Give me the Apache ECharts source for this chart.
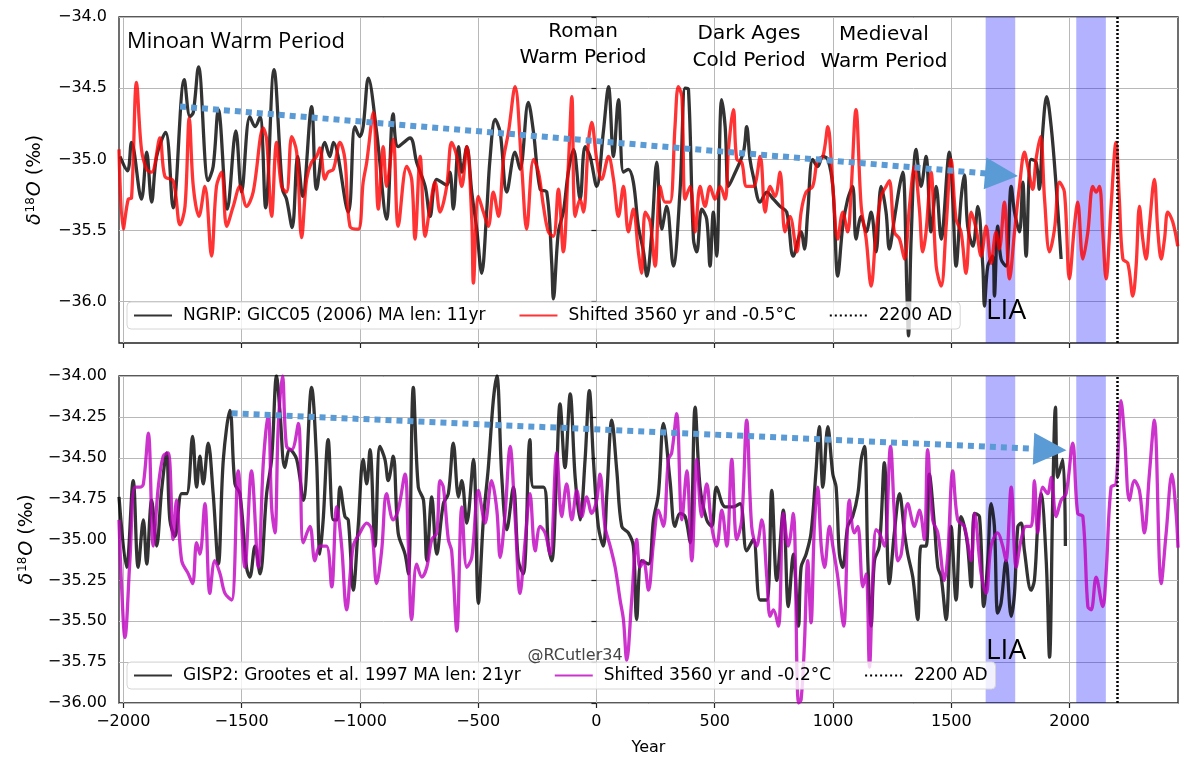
<!DOCTYPE html>
<html>
<head>
<meta charset="utf-8">
<script src="https://cdn.jsdelivr.net/npm/echarts@6/dist/echarts.min.js"></script>
<style>html,body{margin:0;padding:0;background:#fff}#c{width:1200px;height:779px}</style>
</head>
<body>
<div id="c"></div>
<script>
// ---------- data (year, δ18O ‰) ----------
const ngrip = [[-2014,-34.98],[-1982,-35.08],[-1965,-34.88],[-1923,-35.28],[-1901,-34.95],[-1880,-35.30],[-1859,-34.98],[-1821,-34.81],[-1789,-35.34],[-1742,-34.44],[-1718,-34.70],[-1704,-34.67],[-1682,-34.35],[-1641,-35.15],[-1620,-35.05],[-1598,-34.65],[-1560,-35.35],[-1524,-34.80],[-1500,-35.23],[-1465,-34.70],[-1443,-34.77],[-1422,-34.70],[-1398,-35.34],[-1363,-34.37],[-1327,-35.21],[-1310,-35.28],[-1286,-35.48],[-1263,-34.98],[-1242,-35.26],[-1204,-34.63],[-1183,-35.21],[-1148,-34.88],[-1127,-34.98],[-1112,-34.88],[-1049,-35.37],[-1021,-34.77],[-1000,-34.84],[-986,-34.77],[-964,-34.43],[-929,-34.81],[-887,-35.42],[-859,-34.68],[-838,-34.91],[-788,-34.85],[-760,-35.02],[-724,-35.19],[-703,-35.40],[-675,-35.14],[-633,-35.18],[-619,-35.09],[-605,-35.35],[-583,-34.91],[-569,-35.09],[-548,-34.91],[-527,-35.23],[-506,-35.49],[-485,-35.80],[-464,-35.37],[-450,-35.00],[-428,-34.72],[-407,-34.81],[-379,-35.23],[-344,-34.95],[-323,-35.07],[-288,-34.60],[-266,-34.81],[-238,-35.21],[-210,-35.23],[-189,-35.73],[-182,-35.98],[-161,-35.51],[-140,-35.37],[-119,-35.09],[-97,-34.93],[-69,-35.28],[-48,-34.91],[-27,-34.98],[1,-35.19],[29,-34.81],[51,-34.49],[72,-34.98],[93,-34.58],[114,-35.09],[135,-35.07],[156,-35.16],[177,-35.47],[199,-35.65],[213,-35.82],[234,-35.51],[255,-35.02],[276,-35.49],[297,-35.33],[325,-35.75],[353,-35.23],[375,-34.50],[389,-34.51],[410,-35.56],[424,-35.65],[445,-35.35],[466,-35.42],[480,-35.75],[494,-35.37],[508,-35.68],[529,-34.58],[544,-34.77],[558,-35.19],[579,-35.12],[621,-34.95],[635,-34.77],[649,-35.00],[663,-35.12],[692,-35.30],[720,-35.23],[748,-35.28],[776,-35.33],[804,-35.37],[832,-35.68],[865,-35.51],[879,-35.63],[893,-35.37],[914,-35.00],[935,-35.05],[957,-34.98],[978,-35.00],[999,-35.19],[1020,-35.82],[1041,-35.47],[1062,-35.28],[1083,-35.19],[1097,-35.56],[1119,-35.40],[1140,-35.51],[1161,-35.37],[1182,-35.65],[1203,-35.19],[1224,-35.37],[1238,-35.63],[1259,-35.42],[1281,-35.19],[1295,-35.09],[1313,-35.98],[1319,-36.24],[1330,-35.56],[1351,-34.93],[1372,-35.19],[1393,-34.98],[1414,-35.51],[1436,-35.19],[1457,-35.56],[1492,-34.95],[1506,-35.28],[1520,-35.75],[1541,-35.28],[1555,-35.11],[1569,-35.47],[1591,-35.61],[1612,-35.33],[1633,-35.75],[1640,-36.03],[1654,-35.75],[1675,-35.68],[1682,-35.96],[1696,-35.47],[1710,-35.70],[1731,-35.75],[1753,-35.19],[1767,-35.37],[1788,-35.51],[1802,-35.16],[1816,-35.68],[1837,-35.00],[1858,-35.02],[1872,-35.21],[1886,-34.81],[1903,-34.56],[1922,-34.77],[1943,-35.19],[1964,-35.70]];

const ngripShifted = [[-2018,-34.93],[-2000,-35.49],[-1979,-35.28],[-1965,-35.27],[-1944,-34.46],[-1923,-34.93],[-1901,-35.07],[-1880,-35.09],[-1845,-34.85],[-1824,-35.12],[-1789,-35.15],[-1760,-35.46],[-1739,-35.33],[-1721,-34.71],[-1704,-35.19],[-1680,-35.40],[-1655,-35.19],[-1627,-35.68],[-1606,-35.19],[-1584,-35.09],[-1563,-35.47],[-1535,-35.33],[-1507,-35.19],[-1479,-35.33],[-1451,-35.23],[-1408,-34.78],[-1394,-34.86],[-1373,-35.40],[-1352,-34.88],[-1331,-35.19],[-1310,-35.23],[-1288,-34.84],[-1267,-34.95],[-1246,-35.55],[-1225,-35.14],[-1204,-35.02],[-1183,-34.98],[-1169,-34.92],[-1148,-35.14],[-1134,-35.09],[-1112,-35.07],[-1084,-34.88],[-1063,-35.00],[-1042,-35.47],[-1007,-35.49],[-986,-35.16],[-971,-35.02],[-943,-34.67],[-922,-35.35],[-901,-34.91],[-887,-35.19],[-859,-34.86],[-838,-35.47],[-802,-35.05],[-781,-35.14],[-767,-35.56],[-745,-34.98],[-724,-35.54],[-703,-35.33],[-682,-35.16],[-661,-35.37],[-633,-35.19],[-612,-34.88],[-590,-34.98],[-569,-35.19],[-548,-34.91],[-527,-35.42],[-520,-35.87],[-499,-35.26],[-478,-35.37],[-457,-35.47],[-436,-35.23],[-414,-35.40],[-393,-35.00],[-372,-34.81],[-344,-34.49],[-316,-35.05],[-295,-35.49],[-266,-35.00],[-245,-35.09],[-224,-35.33],[-203,-35.51],[-182,-35.54],[-161,-35.21],[-140,-35.65],[-119,-35.05],[-104,-34.56],[-90,-35.40],[-69,-35.28],[-55,-35.37],[-34,-34.88],[-20,-34.74],[1,-35.00],[22,-35.14],[51,-34.98],[72,-35.14],[93,-35.40],[114,-35.19],[135,-35.51],[156,-35.35],[177,-35.65],[191,-35.80],[206,-35.37],[227,-35.44],[248,-35.75],[269,-35.19],[290,-35.30],[311,-35.30],[332,-34.77],[346,-34.49],[361,-34.56],[375,-35.28],[396,-35.19],[417,-35.51],[438,-35.19],[459,-35.33],[480,-35.19],[501,-35.28],[523,-35.19],[544,-35.28],[558,-34.93],[579,-34.65],[593,-35.00],[614,-35.02],[635,-35.19],[663,-35.19],[692,-34.98],[713,-35.37],[734,-35.19],[755,-35.26],[776,-35.09],[797,-35.51],[818,-35.40],[847,-35.65],[865,-35.37],[886,-35.23],[914,-35.19],[935,-35.00],[957,-34.98],[978,-34.77],[999,-35.19],[1020,-35.56],[1041,-35.37],[1062,-35.51],[1076,-35.23],[1097,-34.65],[1119,-35.33],[1140,-35.56],[1161,-35.89],[1182,-35.51],[1203,-35.26],[1224,-35.19],[1238,-35.15],[1259,-35.51],[1281,-35.56],[1302,-35.70],[1323,-35.33],[1344,-35.05],[1365,-35.35],[1379,-35.65],[1393,-35.51],[1414,-35.09],[1436,-35.75],[1457,-35.89],[1478,-35.47],[1499,-35.00],[1520,-35.42],[1541,-35.51],[1562,-35.80],[1584,-35.37],[1605,-35.49],[1626,-35.68],[1647,-35.47],[1668,-35.73],[1689,-35.51],[1703,-35.63],[1724,-35.30],[1746,-35.84],[1767,-35.51],[1788,-35.19],[1809,-34.95],[1823,-35.05],[1844,-35.21],[1858,-35.00],[1877,-34.84],[1894,-35.28],[1915,-35.65],[1936,-35.49],[1957,-35.16],[1978,-35.23],[1999,-35.84],[2020,-35.47],[2034,-35.30],[2056,-35.70],[2077,-35.51],[2098,-35.19],[2112,-35.23],[2126,-35.19],[2140,-35.51],[2154,-35.84],[2175,-35.33],[2196,-34.88],[2210,-35.28],[2225,-35.70],[2246,-35.73],[2267,-35.96],[2281,-35.75],[2295,-35.33],[2309,-35.56],[2323,-35.70],[2337,-35.47],[2358,-35.14],[2373,-35.51],[2387,-35.70],[2401,-35.56],[2415,-35.37],[2436,-35.44],[2457,-35.61]];

const gisp2 = [[-2018,-34.74],[-1986,-35.17],[-1958,-34.64],[-1937,-35.17],[-1915,-34.88],[-1901,-35.15],[-1880,-34.76],[-1859,-35.04],[-1838,-34.70],[-1817,-34.47],[-1803,-34.88],[-1782,-34.98],[-1753,-34.72],[-1732,-34.72],[-1707,-34.37],[-1690,-34.68],[-1676,-34.49],[-1662,-34.66],[-1641,-34.41],[-1620,-34.72],[-1598,-35.15],[-1577,-34.51],[-1549,-34.21],[-1528,-34.66],[-1507,-34.72],[-1479,-35.17],[-1465,-35.23],[-1443,-35.04],[-1422,-35.21],[-1394,-34.72],[-1373,-34.51],[-1352,-34.00],[-1338,-34.21],[-1317,-34.56],[-1296,-34.45],[-1267,-34.51],[-1239,-34.76],[-1204,-34.07],[-1183,-34.51],[-1169,-35.09],[-1155,-34.88],[-1134,-34.39],[-1112,-34.88],[-1098,-34.88],[-1084,-34.68],[-1063,-34.86],[-1049,-34.88],[-1028,-35.31],[-1007,-34.92],[-986,-34.51],[-971,-34.66],[-957,-34.45],[-936,-35.04],[-915,-34.43],[-894,-34.51],[-880,-34.64],[-859,-34.49],[-838,-34.96],[-809,-35.09],[-795,-35.21],[-774,-34.07],[-753,-34.68],[-731,-34.76],[-717,-35.13],[-696,-34.74],[-675,-35.09],[-647,-34.78],[-626,-34.72],[-605,-34.41],[-583,-34.74],[-569,-34.64],[-548,-34.90],[-520,-34.51],[-499,-35.39],[-478,-34.88],[-457,-34.56],[-436,-34.15],[-421,-34.00],[-400,-34.62],[-379,-34.94],[-351,-34.68],[-330,-35.13],[-309,-35.21],[-281,-34.39],[-266,-34.68],[-224,-34.68],[-203,-35.04],[-189,-35.13],[-168,-34.58],[-154,-34.17],[-133,-34.56],[-111,-34.11],[-90,-34.62],[-69,-34.88],[-48,-34.51],[-30,-34.09],[-13,-34.51],[8,-34.92],[29,-35.04],[44,-34.72],[65,-34.27],[86,-34.58],[107,-34.92],[135,-34.96],[156,-35.04],[170,-35.49],[191,-35.13],[220,-35.15],[241,-34.88],[262,-34.72],[283,-34.29],[311,-34.64],[332,-34.92],[353,-34.84],[375,-34.86],[396,-35.02],[417,-34.19],[438,-34.68],[466,-34.88],[487,-34.92],[508,-34.68],[544,-34.80],[579,-34.80],[607,-34.78],[635,-35.07],[663,-35.00],[692,-35.37],[720,-35.37],[741,-34.70],[762,-35.25],[790,-34.82],[811,-35.41],[832,-35.09],[854,-35.53],[865,-35.17],[886,-35.09],[907,-34.96],[928,-34.58],[942,-34.31],[957,-34.68],[978,-34.31],[999,-34.60],[1013,-34.68],[1027,-35.09],[1041,-35.17],[1062,-34.92],[1083,-34.86],[1105,-34.72],[1119,-34.51],[1133,-34.43],[1147,-35.13],[1161,-35.53],[1175,-35.13],[1196,-35.04],[1217,-34.53],[1238,-35.27],[1259,-34.96],[1281,-34.72],[1302,-34.96],[1316,-35.09],[1337,-35.23],[1358,-35.49],[1372,-35.04],[1393,-35.04],[1407,-34.60],[1429,-34.92],[1443,-35.17],[1457,-35.23],[1478,-35.49],[1499,-34.92],[1520,-35.37],[1541,-34.86],[1555,-34.92],[1569,-35.04],[1584,-35.29],[1598,-34.84],[1619,-34.86],[1637,-35.41],[1654,-35.13],[1668,-34.78],[1682,-34.92],[1696,-35.45],[1710,-35.39],[1731,-35.13],[1753,-35.47],[1767,-35.33],[1781,-34.92],[1795,-34.90],[1809,-35.07],[1837,-35.31],[1851,-35.25],[1865,-34.92],[1879,-34.72],[1901,-35.13],[1915,-35.72],[1929,-34.72],[1940,-34.19],[1950,-34.62],[1971,-34.51],[1982,-35.04]];

const gisp2Shifted = [[-2018,-34.88],[-2007,-35.29],[-1993,-35.60],[-1972,-35.13],[-1951,-34.68],[-1930,-34.68],[-1915,-34.66],[-1894,-34.35],[-1873,-35.04],[-1852,-34.68],[-1831,-34.49],[-1810,-34.47],[-1789,-35.00],[-1775,-34.76],[-1753,-35.13],[-1725,-35.21],[-1707,-35.27],[-1690,-35.02],[-1676,-35.09],[-1655,-34.78],[-1634,-35.33],[-1613,-35.13],[-1591,-35.21],[-1570,-35.33],[-1542,-35.37],[-1514,-34.58],[-1486,-35.17],[-1458,-34.58],[-1429,-35.17],[-1408,-34.53],[-1387,-34.23],[-1373,-34.80],[-1359,-34.96],[-1345,-34.31],[-1327,-34.00],[-1310,-34.43],[-1288,-34.45],[-1260,-34.29],[-1239,-35.02],[-1211,-34.92],[-1190,-35.13],[-1169,-35.04],[-1141,-35.04],[-1119,-35.29],[-1098,-34.80],[-1077,-35.04],[-1056,-35.43],[-1028,-35.04],[-1000,-34.96],[-971,-34.90],[-950,-34.94],[-929,-35.27],[-908,-35.07],[-887,-34.72],[-859,-34.88],[-838,-34.82],[-809,-34.60],[-795,-35.04],[-781,-35.49],[-760,-35.15],[-738,-35.23],[-717,-35.17],[-696,-35.00],[-675,-34.96],[-661,-34.64],[-647,-34.68],[-626,-35.00],[-612,-35.07],[-590,-35.56],[-569,-34.80],[-548,-35.17],[-527,-35.11],[-499,-34.70],[-471,-34.90],[-443,-34.64],[-421,-34.82],[-407,-35.11],[-386,-34.84],[-365,-34.43],[-344,-34.86],[-323,-35.33],[-302,-35.02],[-281,-34.72],[-259,-35.07],[-238,-34.92],[-217,-34.96],[-196,-35.09],[-168,-34.47],[-147,-34.86],[-126,-34.66],[-104,-34.88],[-83,-34.70],[-62,-34.86],[-41,-34.74],[-20,-34.84],[1,-34.76],[15,-34.60],[36,-34.92],[58,-35.04],[79,-35.17],[100,-35.37],[114,-35.49],[128,-35.74],[149,-35.37],[170,-35.00],[184,-35.17],[199,-35.13],[220,-35.31],[241,-35.02],[262,-34.82],[283,-34.92],[304,-34.51],[318,-34.47],[339,-34.23],[361,-34.88],[382,-34.58],[403,-35.13],[424,-34.51],[445,-34.86],[466,-34.66],[487,-34.92],[508,-35.04],[530,-34.82],[551,-35.04],[572,-34.51],[593,-35.00],[614,-34.88],[635,-34.27],[656,-34.92],[677,-35.04],[699,-34.88],[720,-35.23],[734,-35.47],[748,-35.43],[769,-35.53],[790,-34.84],[811,-35.04],[832,-34.84],[854,-36.00],[865,-35.98],[879,-35.64],[893,-35.13],[907,-35.51],[921,-34.92],[935,-34.68],[950,-35.04],[964,-35.17],[985,-34.92],[999,-35.04],[1020,-35.23],[1045,-35.53],[1069,-34.76],[1090,-34.96],[1105,-34.92],[1126,-35.29],[1140,-35.21],[1154,-35.78],[1168,-35.23],[1182,-34.94],[1196,-34.96],[1217,-35.04],[1243,-34.43],[1259,-34.84],[1274,-35.13],[1288,-35.09],[1316,-34.78],[1344,-34.92],[1365,-34.82],[1386,-35.00],[1400,-34.45],[1421,-34.88],[1443,-34.96],[1471,-35.25],[1485,-35.09],[1506,-34.58],[1527,-34.88],[1555,-34.92],[1584,-35.13],[1598,-34.84],[1626,-35.21],[1647,-35.33],[1668,-35.04],[1696,-34.96],[1717,-35.04],[1731,-35.13],[1753,-34.68],[1774,-35.17],[1795,-35.00],[1816,-34.92],[1837,-34.92],[1851,-34.64],[1865,-34.96],[1886,-34.68],[1907,-34.72],[1922,-34.62],[1943,-34.86],[1964,-34.76],[1985,-34.72],[2013,-34.41],[2034,-34.84],[2056,-34.86],[2077,-35.41],[2091,-35.43],[2112,-35.23],[2140,-35.41],[2154,-35.21],[2175,-34.68],[2196,-34.66],[2217,-34.15],[2232,-34.37],[2253,-34.76],[2274,-34.64],[2295,-34.70],[2316,-34.96],[2337,-34.60],[2358,-34.27],[2387,-35.27],[2408,-34.96],[2432,-34.60],[2450,-34.84],[2458,-35.05]];

// trend arrows: [start, end] as [year, value]
const trendTop = [[-1760,-34.629],[1712,-35.108]];
const trendBottom = [[-1542,-34.228],[1917,-34.449]];
// shaded periods (years)
const bands = [[1645,1770],[2028,2153]];
const markerYear = 2200;

// axis ticks
const xTicks = [-2000,-1500,-1000,-500,0,500,1000,1500,2000];
const yTicksTop = [-36.0,-35.5,-35.0,-34.5,-34.0];
const yTicksBottom = [-36.0,-35.75,-35.5,-35.25,-35.0,-34.75,-34.5,-34.25,-34.0];
const xRange = [-2018, 2458];
const yRangeTop = [-36.29, -34.0];
const yRangeBottom = [-36.0, -34.0];

const namesTop = ['NGRIP: GICC05 (2006) MA len: 11yr','Shifted 3560 yr and -0.5°C','2200 AD'];
const namesBottom = ['GISP2: Grootes et al. 1997 MA len: 21yr','Shifted 3560 yr and -0.2°C','2200 AD'];

// ---------- chart ----------
const FONT = 'DejaVu Sans';
const minus = (v, d) => (v < 0 ? '\u2212' : '') + Math.abs(v).toFixed(d);
const chart = echarts.init(document.getElementById('c'), null, {renderer: 'canvas'});

function xAxisCfg(i) {
  return {
    type: 'value', gridIndex: i, min: xRange[0], max: xRange[1], splitNumber: 9,
    axisLine: {show: false},
    axisTick: {show: true, length: 5, customValues: xTicks, lineStyle: {color: '#222', width: 1.2}},
    axisLabel: {show: i === 1, customValues: xTicks, formatter: v => minus(v, 0),
      fontFamily: FONT, fontSize: 16, color: '#000', margin: 11},
    splitLine: {show: true, lineStyle: {color: '#b8b8b8', width: 1}},
    name: i === 1 ? 'Year' : '', nameLocation: 'middle', nameGap: 37,
    nameTextStyle: {fontFamily: FONT, fontSize: 16, color: '#000'}
  };
}
function yAxisCfg(i, range, ticks, dec, split) {
  return {
    type: 'value', gridIndex: i, min: range[0], max: range[1], splitNumber: split,
    axisLine: {show: false},
    axisTick: {show: true, length: 5, customValues: ticks, lineStyle: {color: '#222', width: 1.2}},
    axisLabel: {customValues: ticks, formatter: v => minus(v, dec),
      fontFamily: FONT, fontSize: 16, color: '#000', margin: 12},
    splitLine: {show: true, lineStyle: {color: '#b8b8b8', width: 1}},
    name: '{i|δ}{s|18}{i|O}{n| (‰)}', nameLocation: 'middle', nameGap: 73,
    nameTextStyle: {fontFamily: FONT, fontSize: 19, color: '#000',
      rich: {i: {fontFamily: FONT, fontSize: 19, fontStyle: 'italic', color: '#000'},
             n: {fontFamily: FONT, fontSize: 19, color: '#000'},
             s: {fontFamily: FONT, fontSize: 12, color: '#000', verticalAlign: 'top', padding: [0, 1, 9, 1]}}}
  };
}

function lineSeries(name, data, gi, color) {
  return {
    name, type: 'line', data, xAxisIndex: gi, yAxisIndex: gi,
    symbol: 'none', smooth: 0.35, clip: true,
    lineStyle: {color, width: 3.3}, itemStyle: {color}, z: 3
  };
}
function markerSeries(gi) {
  return {
    name: '2200 AD', type: 'line', data: [], xAxisIndex: gi, yAxisIndex: gi, symbol: 'none',
    lineStyle: {color: '#000', width: 2.5, type: [2, 3]}, itemStyle: {color: '#000'},
    markLine: {silent: true, symbol: ['none', 'none'], label: {show: false},
      lineStyle: {color: '#000', width: 2.5, type: [2, 2]},
      data: [{xAxis: markerYear}]}, z: 4
  };
}
function decoSeries(gi, trend) {
  return {
    name: 'deco' + gi, type: 'line', data: [], xAxisIndex: gi, yAxisIndex: gi, symbol: 'none',
    markArea: {silent: true, itemStyle: {color: 'rgba(0,0,255,0.3)'},
      data: bands.map(b => [{xAxis: b[0]}, {xAxis: b[1]}])},
    markLine: {silent: true, symbol: ['none', 'triangle'], symbolSize: [32, 33],
      label: {show: false},
      lineStyle: {color: '#5b9bd5', width: 6, type: [6, 5], opacity: 1},
      data: [[{coord: trend[0]}, {coord: trend[1]}]]},
    z: 5
  };
}
function legendCfg(names, top) {
  return {
    data: names, left: 127, top, orient: 'horizontal', selectedMode: false,
    itemWidth: 38, itemHeight: 14, itemGap: 33,
    padding: [5, 8, 5, 6],
    borderColor: '#d6d6d6', borderWidth: 1, borderRadius: 4,
    backgroundColor: 'rgba(255,255,255,0.8)',
    itemStyle: {opacity: 0},
    textStyle: {fontFamily: FONT, fontSize: 17, color: '#000', padding: [0, 0, 0, 6]}
  };
}

const option = {
  animation: false,
  backgroundColor: '#fff',
  grid: [
    {left: 119, right: 22, top: 17, height: 326, show: true, borderColor: '#222', borderWidth: 1.3},
    {left: 119, right: 22, top: 376, height: 327, show: true, borderColor: '#222', borderWidth: 1.3}
  ],
  xAxis: [xAxisCfg(0), xAxisCfg(1)],
  yAxis: [yAxisCfg(0, yRangeTop, yTicksTop, 1, 5), yAxisCfg(1, yRangeBottom, yTicksBottom, 2, 8)],
  legend: [legendCfg(namesTop, 302), legendCfg(namesBottom, 662)],
  series: [
    decoSeries(0, trendTop),
    lineSeries(namesTop[0], ngrip, 0, 'rgba(0,0,0,0.8)'),
    lineSeries(namesTop[1], ngripShifted, 0, 'rgba(255,0,0,0.8)'),
    markerSeries(0),
    decoSeries(1, trendBottom),
    lineSeries(namesBottom[0], gisp2, 1, 'rgba(0,0,0,0.8)'),
    lineSeries(namesBottom[1], gisp2Shifted, 1, 'rgba(191,0,191,0.8)'),
    markerSeries(1)
  ],
  graphic: [
    {type: 'text', left: 127, top: 31, z: 10, style: {text: 'Minoan Warm Period', font: '22px "Open Sans"', fill: '#000'}},
    {type: 'text', x: 583, y: 45, z: 10, style: {text: 'Roman\nWarm Period', font: '20px "DejaVu Sans"', fill: '#000', align: 'center', verticalAlign: 'middle', lineHeight: 26}},
    {type: 'text', x: 749, y: 47, z: 10, style: {text: 'Dark Ages\nCold Period', font: '20px "DejaVu Sans"', fill: '#000', align: 'center', verticalAlign: 'middle', lineHeight: 27}},
    {type: 'text', x: 884, y: 48, z: 10, style: {text: 'Medieval\nWarm Period', font: '20px "DejaVu Sans"', fill: '#000', align: 'center', verticalAlign: 'middle', lineHeight: 27}},
    {type: 'text', x: 986, y: 311, z: 10, style: {text: 'LIA', font: '28px "Open Sans"', fill: '#000', verticalAlign: 'middle'}},
    {type: 'text', x: 986, y: 651, z: 10, style: {text: 'LIA', font: '28px "Open Sans"', fill: '#000', verticalAlign: 'middle'}},
    {type: 'text', x: 575, y: 656, z: 10, style: {text: '@RCutler34', font: '16px "DejaVu Sans"', fill: '#444', align: 'center', verticalAlign: 'middle'}}
  ]
};
chart.setOption(option);
</script>
</body>
</html>
